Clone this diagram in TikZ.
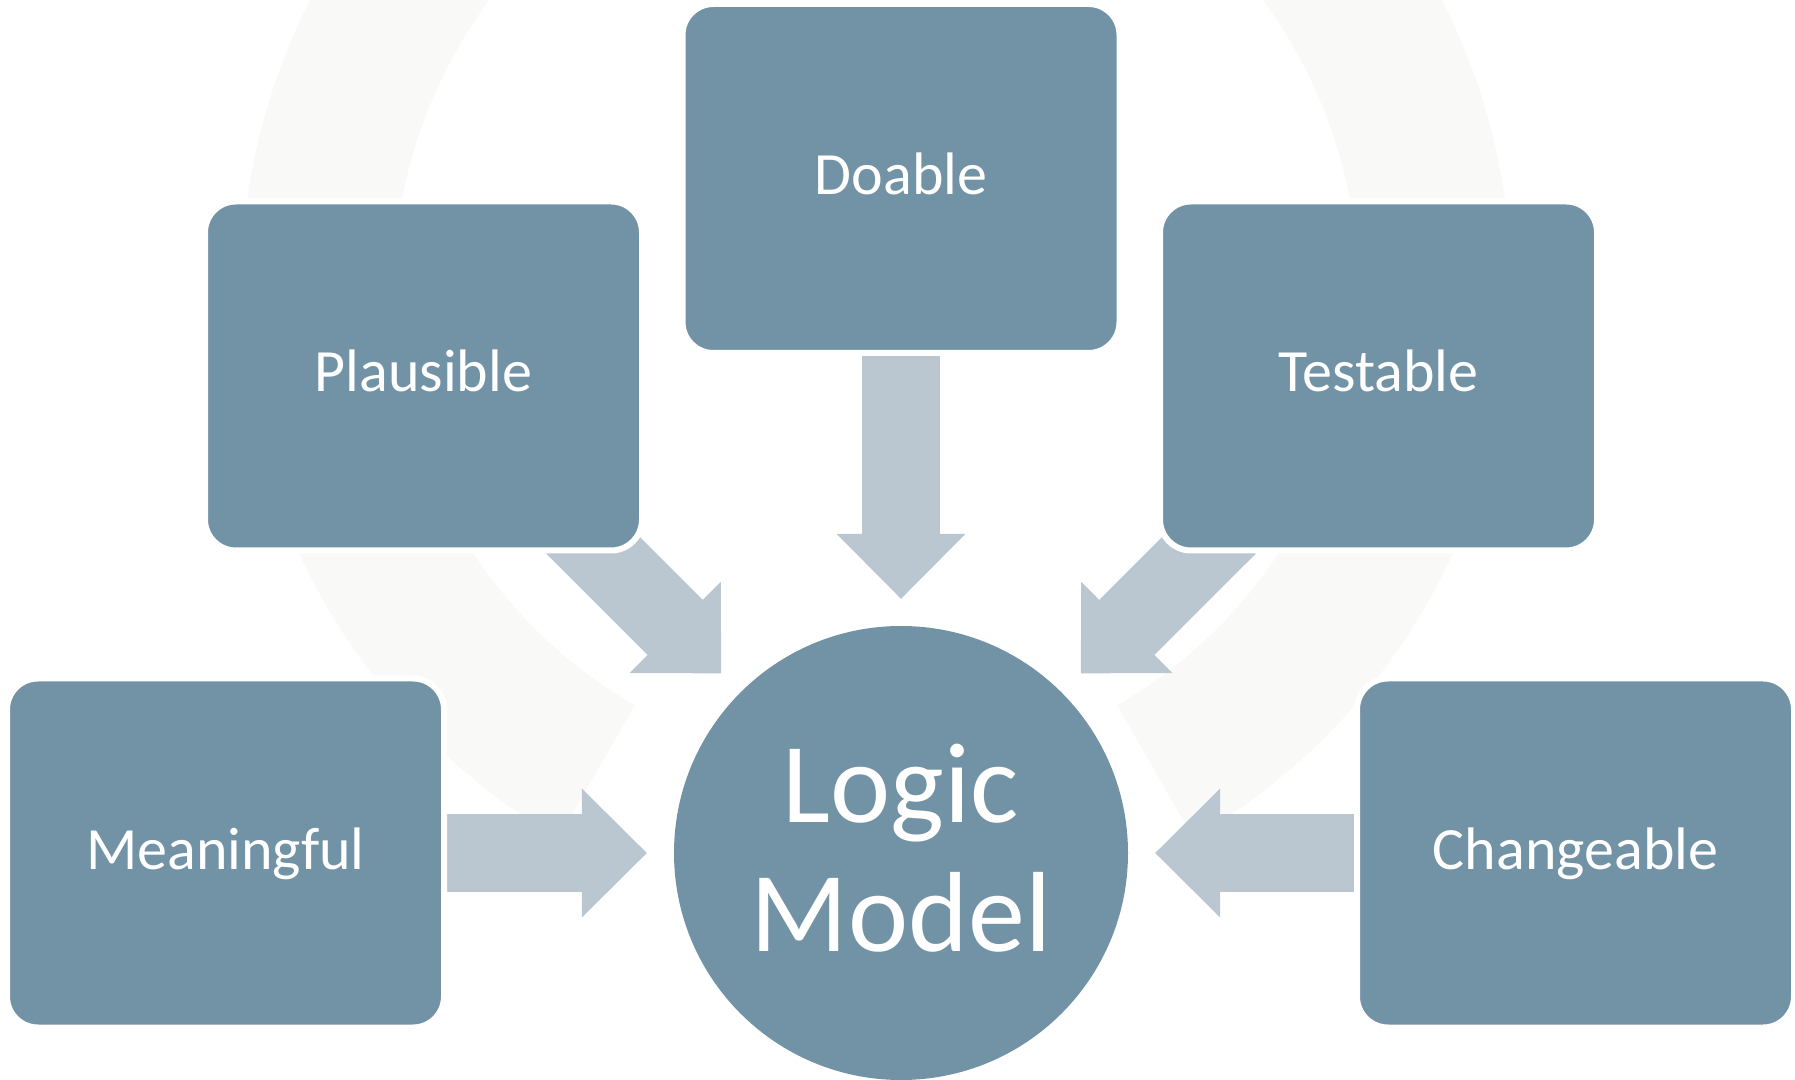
\documentclass[tikz,border=0pt]{standalone}
\usepackage{fontspec}
\setmainfont{Carlito}
\usetikzlibrary{arrows.meta,backgrounds}
\definecolor{boxfill}{HTML}{7292A5}
\definecolor{arrowfill}{HTML}{BAC7D0}
\definecolor{ringfill}{HTML}{F9F9F7}

\begin{document}
\begin{tikzpicture}[x=1pt,y=1pt,
    box/.style={rounded corners=31pt,fill=boxfill,draw=white,line width=6pt,
      minimum width=437pt,minimum height=349pt,inner sep=0pt,text=white,
      text height=32pt,text depth=0pt,font=\fontsize{60}{72}\selectfont},
    hub/.style={circle,fill=boxfill,minimum size=454pt,inner sep=0pt,text=white,
      align=center,text height=196pt,text depth=0pt,font=\fontsize{114}{129}\selectfont},
    conn/.style={draw=arrowfill,line width=78pt,shorten >=27pt,
      -{Triangle[width=129pt,length=65pt,line width=0pt]}}]
        \useasboundingbox (0,0) rectangle (1795,1079);
        \path
        (901,900.5) node[box](D) {Doable}
        (423.5,703) node[box](P) {Plausible}
        (1378.5,703) node[box](T) {Testable}
        (225.5,226) node[box](M) {Meaningful}
        (1575.5,226) node[box](C) {Changeable}
        (901,226) node[hub](L) {Logic\\Model}
        ;

        \begin{pgfonlayer}{background}
        \fill[ringfill] (876,791) ++(-60:635) arc[start angle=-60,end angle=240,radius=635]
          -- ++(240:-153) arc[start angle=240,end angle=-60,radius=482] -- cycle;
        \draw[conn] (D.center) -- (L);
        \draw[conn] (P.center) -- (L);
        \draw[conn] (T.center) -- (L);
        \draw[conn] (M.center) -- (L);
        \draw[conn] (C.center) -- (L);
        \end{pgfonlayer}
      \end{tikzpicture}
\end{document}
